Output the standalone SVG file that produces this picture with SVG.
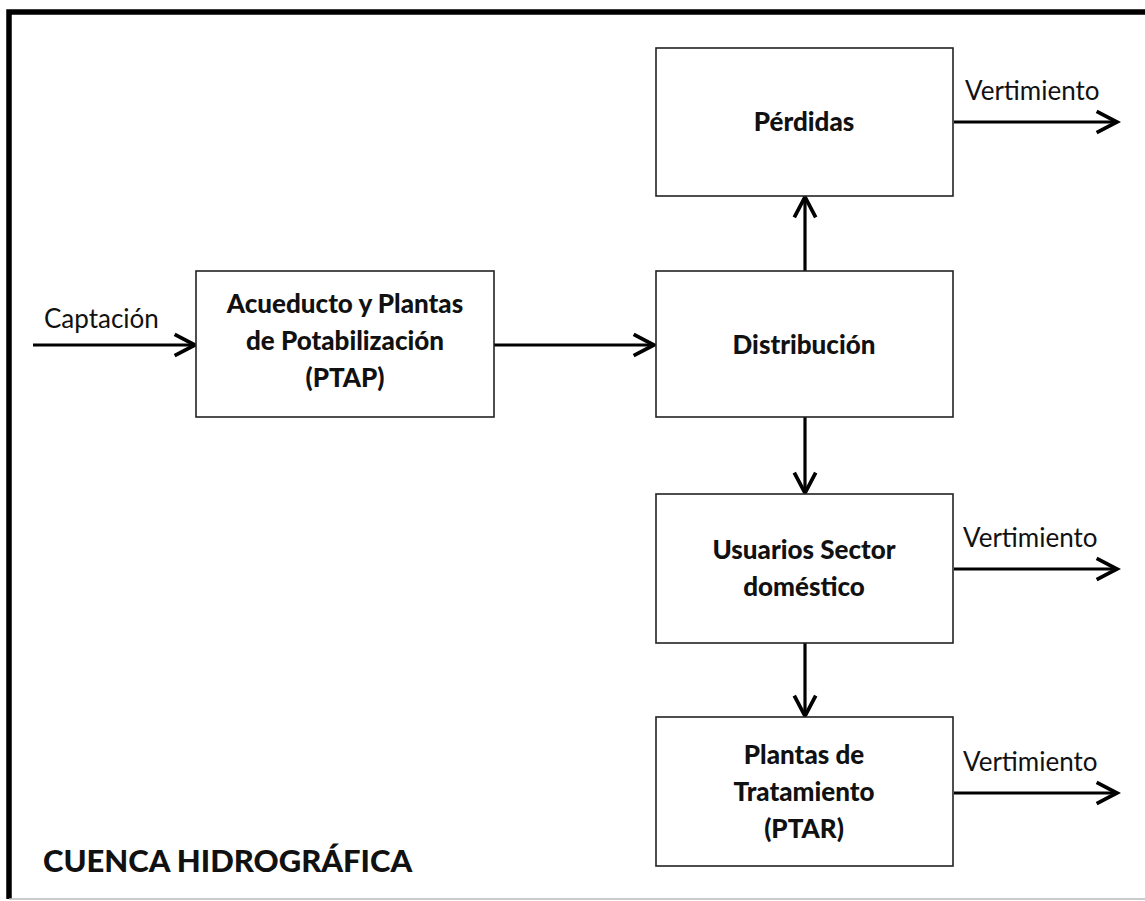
<svg xmlns="http://www.w3.org/2000/svg" width="1145" height="901" viewBox="0 0 1145 901">
  <defs>
    <marker id="chevron" markerUnits="userSpaceOnUse" markerWidth="30" markerHeight="30" viewBox="-24 -12 28 24" refX="0" refY="0" orient="auto">
      <path d="M-19,-10 L0,0 L-19,10" fill="none" stroke="#000" stroke-width="3.5" stroke-linejoin="miter"/>
    </marker>
    <style>
      .box { fill: #fff; stroke: #222; stroke-width: 1.6; }
      .node { font-family: Lato, "Open Sans", sans-serif; font-weight: 900; font-size: 26px; fill: #111; text-anchor: middle; }
      .lbl { font-family: Lato, "Open Sans", sans-serif; font-size: 26px; fill: #111; }
      .title { font-family: Lato, "Open Sans", sans-serif; font-weight: 900; font-size: 31px; fill: #111; }
      .flow { stroke: #000; stroke-width: 3.2; fill: none; marker-end: url(#chevron); }
    </style>
  </defs>

  <rect width="1145" height="901" fill="#fff"/>

  <!-- watershed frame -->
  <g id="frame">
    <path d="M9,899 L9,12 L1145,12" fill="none" stroke="#000" stroke-width="5.5"/>
    <line x1="9" y1="899" x2="1145" y2="899" stroke="#bbb" stroke-width="1.5"/>
    <text class="title" x="43" y="872">CUENCA HIDROGRÁFICA</text>
  </g>

  <!-- connectors -->
  <g id="connectors">
    <line class="flow" x1="33" y1="345" x2="195" y2="345"/>
    <line class="flow" x1="494" y1="345" x2="654" y2="345"/>
    <line class="flow" x1="805" y1="271" x2="805" y2="197"/>
    <line class="flow" x1="805" y1="417" x2="805" y2="493"/>
    <line class="flow" x1="805" y1="643" x2="805" y2="716"/>
    <line class="flow" x1="954" y1="122" x2="1117" y2="122"/>
    <line class="flow" x1="954" y1="569" x2="1117" y2="569"/>
    <line class="flow" x1="954" y1="793" x2="1117" y2="793"/>
    <text class="lbl" x="44" y="328">Captación</text>
    <text class="lbl" x="965" y="100">Vertimiento</text>
    <text class="lbl" x="963" y="547">Vertimiento</text>
    <text class="lbl" x="963" y="771">Vertimiento</text>
  </g>

  <g id="acueducto">
    <rect class="box" x="196" y="271" width="298" height="146"/>
    <text class="node" x="345" y="313">Acueducto y Plantas</text>
    <text class="node" x="345" y="350">de Potabilización</text>
    <text class="node" x="345" y="387">(PTAP)</text>
  </g>

  <g id="perdidas">
    <rect class="box" x="656" y="48" width="297" height="148"/>
    <text class="node" x="804" y="131">Pérdidas</text>
  </g>

  <g id="distribucion">
    <rect class="box" x="656" y="271" width="297" height="146"/>
    <text class="node" x="804" y="354">Distribución</text>
  </g>

  <g id="usuarios">
    <rect class="box" x="656" y="494" width="297" height="149"/>
    <text class="node" x="804" y="559">Usuarios Sector</text>
    <text class="node" x="804" y="596">doméstico</text>
  </g>

  <g id="ptar">
    <rect class="box" x="656" y="717" width="297" height="149"/>
    <text class="node" x="804" y="764">Plantas de</text>
    <text class="node" x="804" y="801">Tratamiento</text>
    <text class="node" x="804" y="838">(PTAR)</text>
  </g>
</svg>
